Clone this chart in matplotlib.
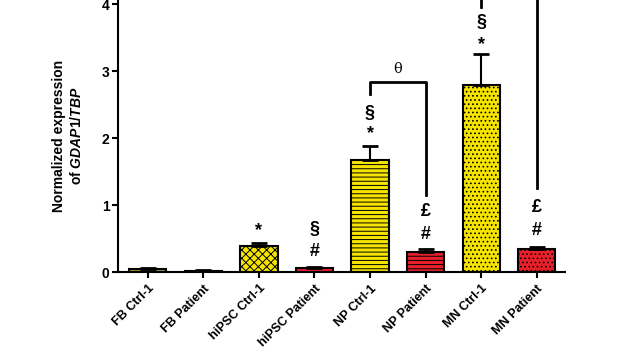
import numpy as np
import matplotlib
matplotlib.use("Agg")
import matplotlib.pyplot as plt

plt.rcParams['font.family'] = ['Liberation Sans', 'DejaVu Sans']
plt.rcParams['font.weight'] = 'bold'
plt.rcParams['mathtext.fontset'] = 'custom'
plt.rcParams['mathtext.it'] = 'Liberation Sans:italic:bold'
plt.rcParams['mathtext.rm'] = 'Liberation Sans:bold'
plt.rcParams['hatch.linewidth'] = 0.7

groups = ['FB Ctrl-1', 'FB Patient', 'hiPSC Ctrl-1', 'hiPSC Patient',
          'NP Ctrl-1', 'NP Patient', 'MN Ctrl-1', 'MN Patient']
means = [0.05, 0.02, 0.39, 0.06, 1.67, 0.30, 2.79, 0.34]
errs = [0.01, 0.005, 0.04, 0.01, 0.21, 0.04, 0.46, 0.04]
colors = ['#a39b3c', '#b0282a', '#f5e400', '#e8202a',
          '#f5e400', '#e8202a', '#f5e400', '#e8202a']
hatches = ['', '', 'xxxx', '', '----', '----', '....', '....']

# significance marks: (bar index, symbol, y)
marks = [(2, '*', 0.62), (3, '§', 0.64), (3, '#', 0.30),
         (4, '*', 2.06), (4, '§', 2.36), (5, '£', 0.90), (5, '#', 0.56),
         (6, '*', 3.40), (6, '§', 3.72), (7, '£', 0.96), (7, '#', 0.62)]

fig = plt.figure(figsize=(6.4, 3.6), dpi=100)
ax = fig.add_axes([0.184, 0.2444, 0.699, 0.7556])
x = np.arange(len(groups))

for i in range(len(groups)):
    ax.bar(x[i], means[i], width=0.67, color=colors[i], edgecolor='black',
           linewidth=1.5, hatch=hatches[i], zorder=2)
    ax.errorbar(x[i], means[i], yerr=[[0], [errs[i]]], fmt='none',
                ecolor='black', elinewidth=1.5, capsize=6, capthick=2, zorder=3)

for i, s, y in marks:
    ax.text(x[i], y, s, ha='center', va='center', fontsize=13, fontweight='bold')

# NP bracket
ax.plot([x[4], x[4], x[5], x[5]], [2.66, 2.84, 2.84, 1.15], color='black', lw=2)
ax.text((x[4] + x[5]) / 2, 3.03, 'θ', ha='center', va='center', fontsize=10.5,
        fontweight='normal', family='DejaVu Serif')
# MN bracket (top cut off)
ax.plot([x[6], x[6], x[7], x[7]], [3.95, 4.6, 4.6, 1.25], color='black', lw=2,
        clip_on=False)

ax.set_xlim(-0.54, 7.51)
ax.set_ylim(0, 4.06)
ax.set_yticks([0, 1, 2, 3, 4])
ax.set_xticks(x)
ax.set_xticklabels(groups, rotation=45, ha='right', rotation_mode='anchor',
                   fontsize=9, fontweight='bold')
for lab in ax.get_yticklabels():
    lab.set_fontweight('bold')
ax.tick_params(axis='y', labelsize=10, width=1.5, length=4, pad=2)
ax.tick_params(axis='x', width=1.5, length=4)
for sp in ['top', 'right']:
    ax.spines[sp].set_visible(False)
for sp in ['left', 'bottom']:
    ax.spines[sp].set_linewidth(1.5)

ax.set_ylabel('Normalized expression\nof $\\mathit{GDAP1/TBP}$', fontsize=10,
              fontweight='bold', labelpad=13)

fig.savefig('out.png', dpi=100)
